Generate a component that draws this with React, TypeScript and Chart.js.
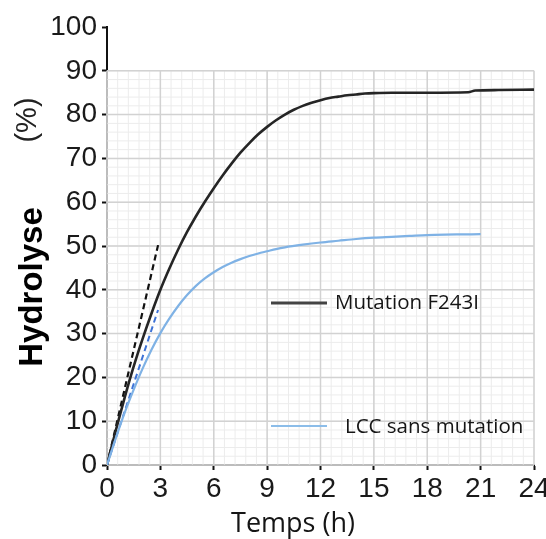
import React, { useEffect, useRef } from 'react';
import { Chart, registerables } from 'chart.js';

Chart.register(...registerables);

// ---- Data ----
const timeF243I = [0, 0.5, 1, 1.5, 2, 2.5, 3, 3.5, 4, 4.5, 5, 5.5, 6, 6.5, 7, 7.5, 8, 8.5, 9, 9.5, 10, 10.5, 11, 11.5, 12, 12.5, 13, 13.5, 14, 14.5, 15, 16, 18, 20.3, 20.7, 22, 24];
const valuesF243I = [0, 8, 15.5, 22.5, 28.8, 34.6, 40, 44.8, 49.2, 53.2, 56.8, 60.1, 63.2, 66.1, 68.8, 71.3, 73.5, 75.5, 77.2, 78.7, 80, 81.1, 82, 82.7, 83.3, 83.8, 84.1, 84.4, 84.6, 84.8, 84.9, 85, 85, 85.1, 85.5, 85.6, 85.7];

const timeLCC = [0, 0.5, 1, 1.5, 2, 2.5, 3, 3.5, 4, 4.5, 5, 5.5, 6, 6.5, 7, 7.5, 8, 8.5, 9, 9.5, 10, 11, 12, 13, 14, 15, 16, 17, 18, 19, 20, 21];
const valuesLCC = [0, 6.2, 12, 17.2, 22, 26.3, 30.1, 33.4, 36.3, 38.8, 40.9, 42.6, 44, 45.2, 46.2, 47, 47.7, 48.3, 48.8, 49.3, 49.7, 50.3, 50.8, 51.2, 51.6, 51.9, 52.1, 52.3, 52.5, 52.6, 52.65, 52.7];

const fitTime = [0, 1, 2, 3, 4, 5, 5.5];
const fitValues = [0, 15.5, 28.8, 40, 49.2, 56.8, 60.1];

const tangentTime = [0, 2.87];
const tangentF243I = [0, 50.2];
const tangentLCC = [0, 35.4];

const xTickValues = [0, 3, 6, 9, 12, 15, 18, 21, 24];
const yTickValues = [0, 10, 20, 30, 40, 50, 60, 70, 80, 90, 100];
const legendLabels = ['Mutation F243I', 'LCC sans mutation'];
const xTitle = 'Temps (h)';
const yTitle = 'Hydrolyse';
const yUnit = '(%)';

const pts = (xs: number[], ys: number[]) => xs.map((x, i) => ({ x, y: ys[i] }));

const gridPlugin = {
  id: 'paperGrid',
  beforeDatasetsDraw(chart: any) {
    const { ctx, scales } = chart;
    const xs = scales.x, ys = scales.y;
    const xMax = xTickValues[xTickValues.length - 1];
    const yMax = 90;
    const left = xs.getPixelForValue(0), right = xs.getPixelForValue(xMax);
    const bottom = ys.getPixelForValue(0), top = ys.getPixelForValue(yMax);
    ctx.save();
    ctx.strokeStyle = '#ececec';
    ctx.lineWidth = 1;
    for (let i = 0; i <= 40; i++) {
      const px = xs.getPixelForValue(i * 0.6);
      ctx.beginPath(); ctx.moveTo(px, top); ctx.lineTo(px, bottom); ctx.stroke();
    }
    for (let i = 0; i <= 45; i++) {
      const py = ys.getPixelForValue(i * 2);
      ctx.beginPath(); ctx.moveTo(left, py); ctx.lineTo(right, py); ctx.stroke();
    }
    ctx.strokeStyle = '#d2d2d2';
    ctx.lineWidth = 1.5;
    for (let v = 0; v <= xMax; v += 3) {
      const px = xs.getPixelForValue(v);
      ctx.beginPath(); ctx.moveTo(px, top); ctx.lineTo(px, bottom); ctx.stroke();
    }
    for (let v = 0; v <= yMax; v += 10) {
      const py = ys.getPixelForValue(v);
      ctx.beginPath(); ctx.moveTo(left, py); ctx.lineTo(right, py); ctx.stroke();
    }
    ctx.restore();
  },
};

const textPlugin = {
  id: 'customText',
  afterDraw(chart: any) {
    const { ctx } = chart;
    ctx.save();
    // y title
    ctx.fillStyle = '#000';
    ctx.save();
    ctx.translate(42, 287);
    ctx.rotate(-Math.PI / 2);
    ctx.font = 'bold 33px "Liberation Sans", Arial, sans-serif';
    ctx.textAlign = 'center';
    ctx.textBaseline = 'alphabetic';
    ctx.fillText(yTitle, 0, 0);
    ctx.restore();
    ctx.save();
    ctx.fillStyle = '#222';
    ctx.translate(36, 120);
    ctx.rotate(-Math.PI / 2);
    ctx.font = '29px "Liberation Sans", Arial, sans-serif';
    ctx.textAlign = 'center';
    ctx.textBaseline = 'alphabetic';
    ctx.fillText(yUnit, 0, 0);
    ctx.restore();
    // x title
    ctx.fillStyle = '#151515';
    ctx.font = '27px "Open Sans", sans-serif';
    ctx.textAlign = 'center';
    ctx.textBaseline = 'middle';
    ctx.fillText(xTitle, 293, 524);
    // legend
    ctx.textAlign = 'left';
    ctx.font = '20.5px "Open Sans", sans-serif';
    ctx.strokeStyle = '#444';
    ctx.lineWidth = 3;
    ctx.beginPath(); ctx.moveTo(271, 303); ctx.lineTo(327, 303); ctx.stroke();
    ctx.fillText(legendLabels[0], 335, 303);
    ctx.strokeStyle = '#8cbde9';
    ctx.lineWidth = 2;
    ctx.beginPath(); ctx.moveTo(271, 426); ctx.lineTo(327, 426); ctx.stroke();
    ctx.fillText(legendLabels[1], 345, 427);
    ctx.restore();
  },
};

export default function App() {
  const ref = useRef<HTMLCanvasElement | null>(null);
  useEffect(() => {
    if (!ref.current) return;
    const chart = new Chart(ref.current, {
      type: 'scatter',
      data: {
        datasets: [
          {
            label: legendLabels[1],
            data: pts(timeLCC, valuesLCC),
            showLine: true,
            borderColor: '#7fb2e5',
            borderWidth: 2.2,
            pointRadius: 0,
            cubicInterpolationMode: 'monotone',
          },
          {
            label: 'tangent LCC',
            data: pts(tangentTime, tangentLCC),
            showLine: true,
            borderColor: '#3d72d6',
            borderWidth: 2,
            borderDash: [6, 4],
            pointRadius: 0,
          },
          {
            label: legendLabels[0],
            data: pts(timeF243I, valuesF243I),
            showLine: true,
            borderColor: '#252525',
            borderWidth: 2.6,
            pointRadius: 0,
            cubicInterpolationMode: 'monotone',
          },
          {
            label: 'fit',
            data: pts(fitTime, fitValues),
            showLine: true,
            borderColor: 'rgba(220,40,40,0.7)',
            borderWidth: 1,
            borderDash: [2, 5],
            pointRadius: 0,
            cubicInterpolationMode: 'monotone',
          },
          {
            label: 'tangent F243I',
            data: pts(tangentTime, tangentF243I),
            showLine: true,
            borderColor: '#111',
            borderWidth: 2.2,
            borderDash: [6, 4],
            pointRadius: 0,
          },
        ],
      },
      options: {
        responsive: false,
        animation: false,
        layout: { padding: { left: 0, top: 27, right: 26, bottom: 0 } },
        plugins: { legend: { display: false }, tooltip: { enabled: false } },
        scales: {
          x: {
            type: 'linear',
            min: 0,
            max: 24,
            afterFit: (s: any) => { s.height = 74; },
            afterBuildTicks: (s: any) => { s.ticks = xTickValues.map((v) => ({ value: v })); },
            ticks: {
              color: '#1a1a1a',
              font: { family: '"Liberation Sans", Arial, sans-serif', size: 28 },
              padding: 2,
              maxRotation: 0,
              autoSkip: false,
            },
            grid: { drawOnChartArea: false, drawTicks: true, tickLength: 5, tickColor: '#111', tickWidth: 2 },
            border: { display: true, color: '#111', width: 2 },
          },
          y: {
            type: 'linear',
            min: 0,
            max: 100,
            afterFit: (s: any) => { s.width = 107; },
            afterBuildTicks: (s: any) => { s.ticks = yTickValues.map((v) => ({ value: v })); },
            ticks: {
              color: '#1a1a1a',
              font: { family: '"Liberation Sans", Arial, sans-serif', size: 28 },
              padding: 5,
              autoSkip: false,
            },
            grid: { drawOnChartArea: false, drawTicks: true, tickLength: 5, tickColor: '#111', tickWidth: 2 },
            border: { display: true, color: '#111', width: 2 },
          },
        },
      },
      plugins: [gridPlugin, textPlugin],
    } as any);
    return () => chart.destroy();
  }, []);
  return (
    <div style={{ position: 'absolute', left: 0, top: 0, width: 546, height: 539, overflow: 'hidden', background: '#fff' }}>
      <canvas ref={ref} width={560} height={539} style={{ display: 'block' }} />
    </div>
  );
}
